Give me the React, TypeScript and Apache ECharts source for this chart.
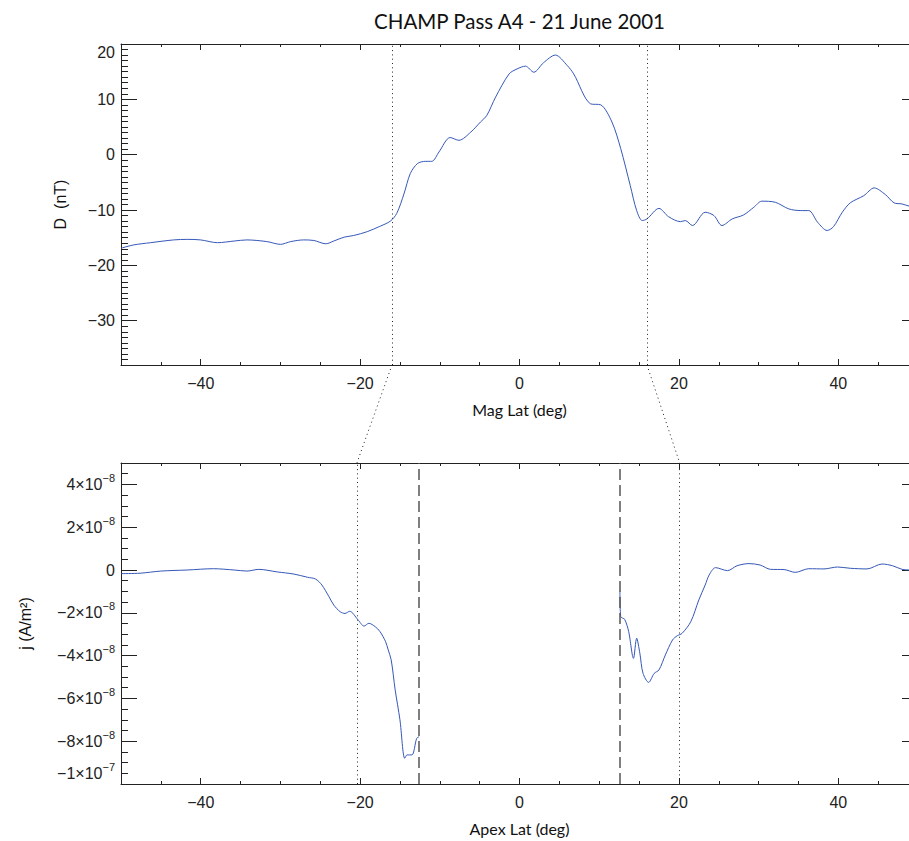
import React, { useEffect, useRef } from 'react';
import * as echarts from 'echarts';

const chartTitle = 'CHAMP Pass A4 - 21 June 2001';

// Top panel: magnetic latitude (deg) vs D (nT)
const magLat = [
  -50, -48.4, -46.3, -43.4, -41.7, -40, -37.9, -35.8, -34.2, -31.7, -30, -28.7, -27.1, -25.8, -24.3,
  -23.3, -22.0, -20.8, -19.1, -17.6, -16.2, -15.4, -14.5, -13.7, -12.8, -11.8, -11.0, -10.1, -8.7,
  -7.6, -6.1, -4.9, -4.1, -3.0, -1.3, -0.3, 0.75, 1.8, 3.0, 4.5, 6.0, 6.8, 8.9, 10.2, 11.6, 12.7,
  13.9, 14.7, 15.4, 16.0, 17.5, 18.7, 20.2, 20.8, 21.7, 23.3, 24.4, 25.4, 26.7, 28.1, 29.4, 30.4,
  32.1, 33.8, 35.3, 36.3, 37.4, 38.6, 39.4, 40.5, 41.5, 43.2, 44.5, 45.9, 47.0, 48.0, 48.9, 50,
];
const dValues = [
  -16.9, -16.3, -15.9, -15.4, -15.3, -15.4, -15.9, -15.6, -15.4, -15.7, -16.2, -15.7, -15.4, -15.5, -16.1,
  -15.6, -14.9, -14.6, -13.9, -13.0, -12.0, -10.6, -7.1, -3.4, -1.6, -1.2, -1.2, 0.5, 3.1,
  2.6, 4.1, 5.9, 7.1, 10.4, 14.6, 15.5, 16.0, 14.9, 16.6, 18.0, 16.1, 14.6, 9.2, 9.0, 5.9, 1.1,
  -5.6, -10.1, -11.9, -11.6, -9.7, -11.2, -12.1, -11.9, -12.8, -10.4, -11.0, -12.8, -11.6, -10.9, -9.5, -8.4,
  -8.6, -9.8, -10.1, -10.1, -12.2, -13.7, -13.0, -10.4, -8.7, -7.4, -6.0, -7.2, -8.7, -8.9, -9.3, -9.6,
];

// Bottom panel: apex latitude (deg) vs j, in units of 1e-8 A/m^2
const apexLatLeft = [
  -50, -47.6, -45, -41.7, -38.4, -35.8, -34.2, -32.7, -30.4, -28.3, -26.6, -25.6, -24.8, -23.9, -23.3,
  -22.5, -21.9, -21.3, -20.3, -19.5, -18.9, -18.1, -17.5, -16.8, -16.5, -16.1, -15.6, -15.0, -14.4,
  -14.1, -13.5, -12.9, -12.6,
];
const jLeft = [
  -0.17, -0.15, -0.05, 0.0, 0.06, 0.0, -0.05, 0.03, -0.09, -0.19, -0.34, -0.42, -0.7, -1.25, -1.64,
  -1.95, -2.03, -1.93, -2.31, -2.62, -2.49, -2.65, -2.88, -3.35, -3.7, -4.2, -5.6, -7.0, -8.8,
  -8.64, -8.64, -7.87, -7.79,
];
const apexLatRight = [
  12.6, 12.7, 13.2, 13.7, 14.3, 14.7, 15.1, 15.5, 16.2, 16.9, 17.5, 18.3, 19.2, 19.8, 20.4, 21.5,
  22.5, 23.3, 23.8, 24.6, 26.1, 27.3, 28.8, 30.2, 31.5, 33.2, 34.6, 36.3, 38.2, 39.9, 41.5, 43.6,
  45.5, 46.8, 48.0, 48.9, 50,
];
const jRight = [
  -1.0, -2.18, -2.31, -2.88, -4.13, -3.19, -3.89, -4.83, -5.25, -4.83, -4.67, -3.97, -3.27, -3.07, -2.96, -2.41,
  -1.4, -0.7, -0.23, 0.11, -0.03, 0.2, 0.3, 0.23, 0.03, 0.02, -0.11, 0.06, 0.05, 0.14, 0.08, 0.05,
  0.28, 0.2, 0.03, 0.0, -0.05,
];

const xRange = [-50, 50];
const dRange = [-38, 20];
const jRange = [-10, 5];
const xMajorTicks = [-40, -20, 0, 20, 40];
const dMajorTicks = [-30, -20, -10, 0, 10, 20];
const jMajorTicks = [-10, -8, -6, -4, -2, 0, 2, 4];
const magLatMarkers = [-16, 16];
const apexDotted = [-20.4, 20.1];
const apexDashed = [-12.6, 12.6];

const LINE_COLOR = '#3558b8';
const AXIS_COLOR = '#222';
const TICK_FONT = 'Liberation Sans';
const NAME_FONT = 'Lato';
const DOTTED = [1, 3.3];

const minus = (v: number) => (v < 0 ? '\u2212' + Math.abs(v) : String(v));

function makeXAxes(gridIndex: number, name: string) {
  const base: any = {
    type: 'value',
    gridIndex,
    min: xRange[0],
    max: xRange[1],
    splitLine: { show: false },
  };
  const line = { show: true, onZero: false, lineStyle: { color: AXIS_COLOR, width: 1 } };
  const noLine = { show: false, onZero: false };
  const tickStyle = { color: AXIS_COLOR, width: 1 };
  return [
    {
      ...base,
      position: 'bottom',
      axisLine: line,
      axisTick: { show: true, inside: true, length: 6, customValues: xMajorTicks, lineStyle: tickStyle },
      axisLabel: {
        show: true,
        customValues: xMajorTicks,
        formatter: minus,
        margin: 10,
        fontFamily: TICK_FONT,
        fontSize: 16,
        color: '#222',
      },
      name,
      nameLocation: 'middle',
      nameGap: 36,
      nameTextStyle: { fontFamily: NAME_FONT, fontSize: 16, color: '#111' },
    },
    {
      ...base,
      position: 'bottom',
      interval: 5,
      axisLine: noLine,
      axisTick: { show: true, inside: true, length: 3, lineStyle: tickStyle },
      axisLabel: { show: false },
    },
    {
      ...base,
      position: 'top',
      axisLine: line,
      axisTick: { show: true, inside: true, length: 6, customValues: xMajorTicks, lineStyle: tickStyle },
      axisLabel: { show: false },
    },
    {
      ...base,
      position: 'top',
      interval: 5,
      axisLine: noLine,
      axisTick: { show: true, inside: true, length: 3, lineStyle: tickStyle },
      axisLabel: { show: false },
    },
  ];
}

function makeYAxes(
  gridIndex: number,
  range: number[],
  majors: number[],
  minorInterval: number,
  formatter: (v: number) => string,
  rich: any,
  name: string,
  nameGap: number
) {
  const base: any = {
    type: 'value',
    gridIndex,
    min: range[0],
    max: range[1],
    splitLine: { show: false },
  };
  const line = { show: true, onZero: false, lineStyle: { color: AXIS_COLOR, width: 1 } };
  const noLine = { show: false, onZero: false };
  const tickStyle = { color: AXIS_COLOR, width: 1 };
  return [
    {
      ...base,
      position: 'left',
      axisLine: line,
      axisTick: { show: true, inside: true, length: 16, customValues: majors, lineStyle: tickStyle },
      axisLabel: {
        show: true,
        customValues: majors,
        formatter,
        margin: 6,
        fontFamily: TICK_FONT,
        fontSize: 16,
        color: '#222',
        rich,
      },
      name,
      nameLocation: 'middle',
      nameGap,
      nameTextStyle: { fontFamily: TICK_FONT, fontSize: 16, color: '#111' },
    },
    {
      ...base,
      position: 'left',
      interval: minorInterval,
      axisLine: noLine,
      axisTick: { show: true, inside: true, length: 7, lineStyle: tickStyle },
      axisLabel: { show: false },
    },
    {
      ...base,
      position: 'right',
      axisLine: line,
      axisTick: { show: true, inside: true, length: 16, customValues: majors, lineStyle: tickStyle },
      axisLabel: { show: false },
    },
    {
      ...base,
      position: 'right',
      interval: minorInterval,
      axisLine: noLine,
      axisTick: { show: true, inside: true, length: 7, lineStyle: tickStyle },
      axisLabel: { show: false },
    },
  ];
}

const baseTok = { fontFamily: TICK_FONT, fontSize: 16, color: '#222' };

const dFormatter = (v: number) => {
  if (v === dRange[1]) return '{gap| }\n{t|' + minus(v) + '}';
  return '{t|' + minus(v) + '}';
};
const dRich = {
  t: { ...baseTok, lineHeight: 20 },
  gap: { fontSize: 1, lineHeight: 17 },
};

const jFormatter = (v: number) => {
  if (v === 0) return '{a|0}';
  const sign = v < 0 ? '\u2212' : '';
  const a = Math.abs(v);
  if (a >= 10) return '{a|' + sign + a / 10 + '\u00d710}{s|\u22127}\n{gap| }';
  return '{a|' + sign + a + '\u00d710}{s|\u22128}';
};
const jRich = {
  a: { ...baseTok, lineHeight: 24, verticalAlign: 'middle' },
  s: { ...baseTok, fontSize: 11, lineHeight: 12, verticalAlign: 'top' },
  gap: { fontSize: 1, lineHeight: 22 },
};

export default function App() {
  const ref = useRef<HTMLDivElement>(null);

  useEffect(() => {
    if (!ref.current) return;
    const chart = echarts.init(ref.current, undefined, { renderer: 'svg' });

    const markLineBase = {
      silent: true,
      symbol: ['none', 'none'],
      label: { show: false },
      emphasis: { disabled: true },
      animation: false,
    };

    const lineSeries = {
      type: 'line',
      showSymbol: false,
      symbol: 'none',
      smooth: 0.3,
      lineStyle: { color: LINE_COLOR, width: 1 },
      silent: true,
    };

    const option: any = {
      animation: false,
      backgroundColor: '#ffffff',
      grid: [
        { left: 121, right: -9, top: 44, height: 321, containLabel: false, outerBoundsMode: 'none' },
        { left: 121, right: -9, top: 463, height: 321, containLabel: false, outerBoundsMode: 'none' },
      ],
      xAxis: [...makeXAxes(0, 'Mag Lat (deg)'), ...makeXAxes(1, 'Apex Lat (deg)')],
      yAxis: [
        ...makeYAxes(0, dRange, dMajorTicks, 1, dFormatter, dRich, 'D  (nT)', 53),
        ...makeYAxes(1, jRange, jMajorTicks, 0.5, jFormatter, jRich, 'j (A/m\u00b2)', 88),
      ],
      series: [
        {
          ...lineSeries,
          xAxisIndex: 0,
          yAxisIndex: 0,
          data: magLat.map((x, i) => [x, dValues[i]]),
          markLine: {
            ...markLineBase,
            lineStyle: { color: '#222', width: 1, type: DOTTED },
            data: magLatMarkers.map((m) => ({ xAxis: m })),
          },
        },
        {
          ...lineSeries,
          xAxisIndex: 4,
          yAxisIndex: 4,
          data: apexLatLeft.map((x, i) => [x, jLeft[i]]),
          markLine: {
            ...markLineBase,
            data: [
              ...apexDotted.map((m) => ({ xAxis: m, lineStyle: { color: '#222', width: 1, type: DOTTED } })),
              ...apexDashed.map((m) => ({ xAxis: m, lineStyle: { color: '#555', width: 1.5, type: [11, 5] } })),
            ],
          },
        },
        {
          ...lineSeries,
          xAxisIndex: 4,
          yAxisIndex: 4,
          data: apexLatRight.map((x, i) => [x, jRight[i]]),
        },
      ],
    };

    chart.setOption(option);

    const px = (xi: number, yi: number, pt: number[]) =>
      chart.convertToPixel({ xAxisIndex: xi, yAxisIndex: yi } as any, pt) as unknown as number[];
    const topLeft = px(0, 0, [xRange[0], dRange[1]]);
    const topRight = px(0, 0, [xRange[1], dRange[1]]);
    const titleX = (topLeft[0] + topRight[0]) / 2;

    const connectors = magLatMarkers.map((m, i) => {
      const a = px(0, 0, [m, dRange[0]]);
      const b = px(4, 4, [apexDotted[i], jRange[1]]);
      return {
        type: 'line',
        silent: true,
        shape: { x1: a[0], y1: a[1], x2: b[0], y2: b[1] },
        style: { stroke: '#222', lineWidth: 1, lineDash: DOTTED },
      };
    });

    chart.setOption({
      graphic: [
        {
          type: 'text',
          x: titleX,
          y: 21,
          silent: true,
          style: {
            text: chartTitle,
            fontFamily: NAME_FONT,
            fontSize: 20.5,
            fill: '#111',
            textAlign: 'center',
            textVerticalAlign: 'middle',
          },
        },
        ...connectors,
      ],
    });

    return () => chart.dispose();
  }, []);

  return (
    <div
      ref={ref}
      style={{ position: 'fixed', left: 0, top: 0, width: 909, height: 841, background: '#fff' }}
    />
  );
}
